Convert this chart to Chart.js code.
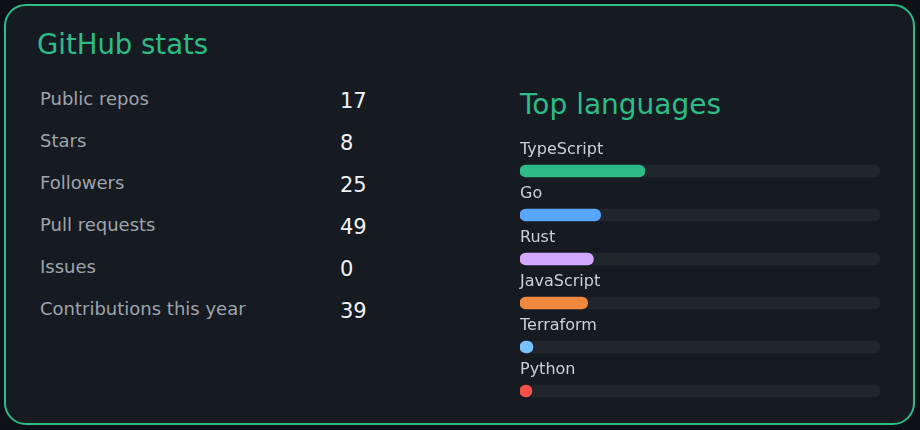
<!DOCTYPE html>
<html><head><meta charset="utf-8">
<script src="https://cdn.jsdelivr.net/npm/chart.js@4/dist/chart.umd.min.js"></script>
<style>
html,body{margin:0;padding:0;background:#0d1117;width:920px;height:430px;overflow:hidden;font-family:"DejaVu Sans",sans-serif;}
#card{position:absolute;left:4px;top:4px;width:907px;height:417px;border:2.5px solid #2dbb87;border-radius:22px;background:#161b22;}
.t{position:absolute;white-space:nowrap;}
#title{left:37px;top:28px;font-size:27.5px;color:#2dbb87;}
#lt{left:520px;top:88px;font-size:28px;color:#2dbb87;}
.sl{font-size:18px;color:#9ea4ab;left:40px;}
.sv{font-size:21px;color:#f0f3f6;left:340px;}
#wrap{position:absolute;left:514px;top:129px;width:372px;height:284px;}
</style></head><body>
<div id="card"></div>
<div class="t" id="title">GitHub stats</div>
<div class="t" id="lt">Top languages</div>
<div id="stats"></div>
<div id="wrap"><canvas id="c"></canvas></div>
<script>
const statLabels=["Public repos","Stars","Followers","Pull requests","Issues","Contributions this year"];
const statValues=[17,8,25,49,0,39];
const languages=["TypeScript","Go","Rust","JavaScript","Terraform","Python"];
const percents=[34.7,22.4,20.4,18.8,3.6,3.3];
const colors=["#2dbb87","#58a6ff","#d2a8ff","#f0883e","#79c0ff","#f85149"];

const st=document.getElementById('stats');
statLabels.forEach((l,i)=>{
  const a=document.createElement('div');a.className='t sl';a.style.top=(88+42*i)+'px';a.textContent=l;st.appendChild(a);
  const b=document.createElement('div');b.className='t sv';b.style.top=(89+42*i)+'px';b.textContent=statValues[i];st.appendChild(b);
});

const labelPlugin={id:'lbl',afterDatasetsDraw(ch){
  const ctx=ch.ctx,ys=ch.scales.y,xs=ch.scales.x;
  ctx.save();ctx.font='16px "DejaVu Sans"';ctx.fillStyle='#c9d1d9';ctx.textBaseline='middle';ctx.textAlign='left';
  languages.forEach((l,i)=>{ctx.fillText(l,xs.left,ys.getPixelForValue(i)-21);});
  ctx.restore();}};

new Chart(document.getElementById('c'),{
  type:'bar',
  data:{labels:languages,datasets:[
    {data:percents,backgroundColor:colors,barThickness:12,borderRadius:6,borderSkipped:false,order:1,grouped:false},
    {data:languages.map(()=>100),backgroundColor:'#21262d',barThickness:12,borderRadius:6,borderSkipped:false,order:2,grouped:false}
  ]},
  options:{indexAxis:'y',responsive:true,maintainAspectRatio:false,animation:false,
    layout:{padding:{left:6,right:6,top:20,bottom:0}},
    plugins:{legend:{display:false},tooltip:{enabled:false}},
    scales:{x:{display:false,min:0,max:100},y:{display:false}}},
  plugins:[labelPlugin]
});
</script></body></html>
